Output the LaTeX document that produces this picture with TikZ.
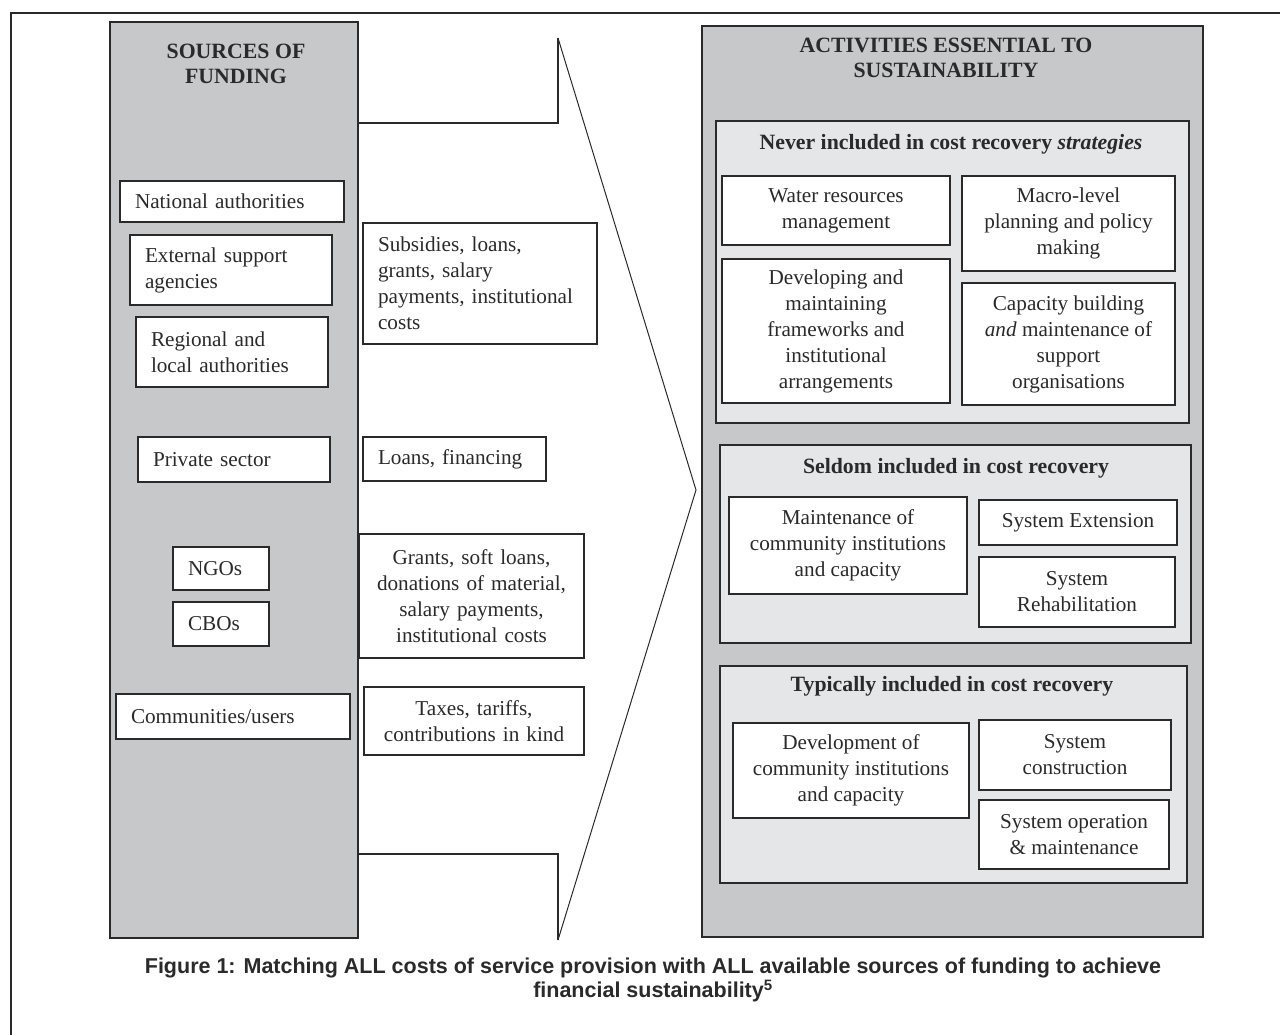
\documentclass[tikz,border=0pt]{standalone}
\usepackage{fontspec}
\setmainfont{Liberation Serif}
\newfontfamily\capfont{Liberation Sans}
\definecolor{panelgrey}{HTML}{C7C8CA}
\definecolor{subgrey}{HTML}{E5E6E7}
\definecolor{ink}{HTML}{2A2A2A}
\tikzset{
  body/.style={font=\fontsize{21.2}{26}\selectfont, text=ink},
  bigpanel/.style={draw=ink, line width=2pt, fill=panelgrey, inner sep=0pt},
  subpanel/.style={draw=ink, line width=1.8pt, fill=subgrey, inner sep=0pt},
  wbox/.style={draw=ink, line width=1.5pt, fill=white, body, align=center, inner sep=1pt},
  lbox/.style={draw=ink, line width=1.5pt, fill=white, body, align=left, inner xsep=15pt, inner ysep=1pt},
  ptitle/.style={font=\fontsize{21.8}{25.5}\selectfont\bfseries, text=ink, align=center, inner sep=0pt},
  arrowline/.style={draw=ink, line width=1.4pt, line join=miter},
}
\begin{document}
\begin{tikzpicture}[x=1pt,y=-1pt]
\useasboundingbox (0,0) rectangle (1280,1035);
% outer frame
\draw[ink, line width=2.8pt] (11,1036) -- (11,13) -- (1281,13);

% left panel
\node[bigpanel, minimum width=248pt, minimum height=916pt] (src) at (234,480) {};
\node[ptitle] (srctitle) at (236,64) {SOURCES OF\\FUNDING};

\node[lbox, minimum height=41pt, text width=194pt] (nat) at (232,201.5) {National authorities};
\node[lbox, minimum height=70pt, text width=172pt] (ext) at (231,270) {External support\\agencies};
\node[lbox, minimum height=70pt, text width=162pt] (reg) at (232,352) {Regional and\\local authorities};
\node[lbox, minimum height=45pt, text width=162pt] (priv) at (234,459.5) {Private sector};
\node[lbox, minimum height=43pt, text width=66pt] (ngo) at (221,568.5) {NGOs};
\node[lbox, minimum height=44pt, text width=66pt] (cbo) at (221,624) {CBOs};
\node[lbox, minimum height=45pt, text width=204pt] (comm) at (233,716.5) {Communities/users};

% funding types
\node[lbox, minimum height=121pt, text width=204pt] (subs) at (480,283.5) {Subsidies, loans,\\grants, salary\\payments, institutional\\costs};
\node[lbox, minimum height=44pt, text width=153pt] (loans) at (454.5,459) {Loans, financing};
\node[wbox, minimum height=124pt, text width=223pt] (grants) at (471.5,596) {Grants, soft loans,\\donations of material,\\salary payments,\\institutional costs};
\node[wbox, minimum height=68pt, text width=218pt] (taxes) at (474,721) {Taxes, tariffs,\\contributions in kind};

% arrow outline
\coordinate (a1) at (358,123);
\coordinate (a2) at (558,123);
\coordinate (a3) at (558,38);
\coordinate (tip) at (696,490);
\coordinate (a5) at (558,940);
\coordinate (a6) at (558,854);
\coordinate (a7) at (358,854);
\draw[arrowline] (a1) -- (a2) -- (a3);
\draw[ink, line width=1pt] (a3) -- (tip) -- (a5);
\draw[arrowline] (a5) -- (a6) -- (a7);

% right panel
\node[bigpanel, minimum width=501pt, minimum height=911pt] (act) at (952.5,481.5) {};
\node[ptitle] (acttitle) at (946,58) {ACTIVITIES ESSENTIAL TO\\SUSTAINABILITY};

% never
\node[subpanel, minimum width=473pt, minimum height=302pt] (never) at (952.5,272) {};
\node[ptitle] (nevertitle) at (951,144) {Never included in cost recovery \textit{strategies}};
\node[wbox, minimum width=228pt, minimum height=69pt] (water) at (836,210.5) {Water resources\\management};
\node[wbox, minimum width=213pt, minimum height=95pt] (macro) at (1068.5,223.5) {Macro-level\\planning and policy\\making};
\node[wbox, minimum width=228pt, minimum height=144pt] (devfw) at (836,331) {Developing and\\maintaining\\frameworks and\\institutional\\arrangements};
\node[wbox, minimum width=213pt, minimum height=122pt] (capb) at (1068.5,344) {Capacity building\\\textit{and} maintenance of\\support\\organisations};

% seldom
\node[subpanel, minimum width=471pt, minimum height=198pt] (seldom) at (955.5,544) {};
\node[ptitle] (seldomtitle) at (956,468) {Seldom included in cost recovery};
\node[wbox, minimum width=238pt, minimum height=97pt] (maint) at (848,545.5) {Maintenance of\\community institutions\\and capacity};
\node[wbox, minimum width=198pt, minimum height=45pt] (sysext) at (1078,522.5) {System Extension};
\node[wbox, minimum width=196pt, minimum height=70pt] (sysreh) at (1077,592) {System\\Rehabilitation};

% typically
\node[subpanel, minimum width=467pt, minimum height=217pt] (typ) at (953.5,774.5) {};
\node[ptitle] (typtitle) at (952,686) {Typically included in cost recovery};
\node[wbox, minimum width=236pt, minimum height=95pt] (devcom) at (851,770.5) {Development of\\community institutions\\and capacity};
\node[wbox, minimum width=192pt, minimum height=70pt] (syscon) at (1075,755) {System\\construction};
\node[wbox, minimum width=190pt, minimum height=69pt] (sysop) at (1074,834.5) {System operation\\\& maintenance};

% caption
\node[font=\capfont\fontsize{21.5}{24.5}\selectfont\bfseries, text=ink, align=center, inner sep=0pt] (cap) at (653,980)
  {Figure 1: Matching ALL costs of service provision with ALL available sources of funding to achieve\\financial sustainability\textsuperscript{5}};
\end{tikzpicture}
\end{document}
